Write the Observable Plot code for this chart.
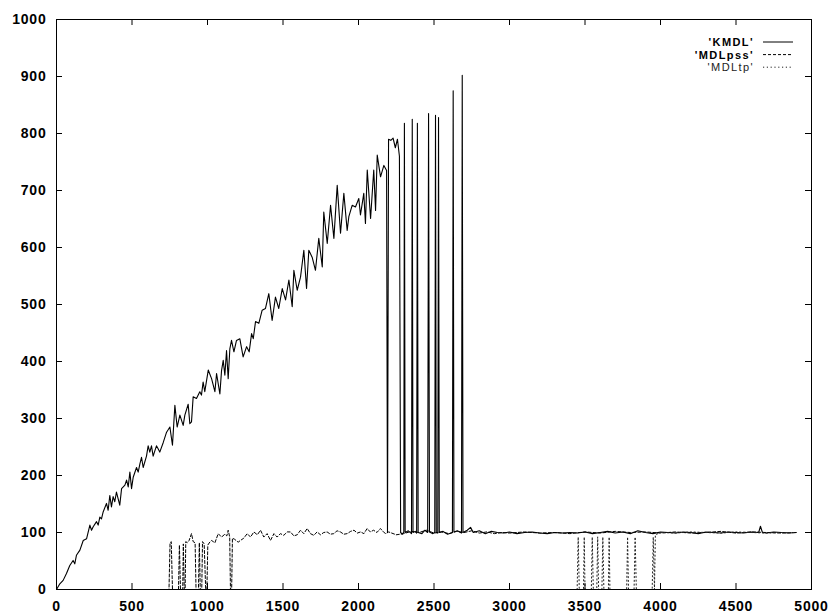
<!DOCTYPE html>
<html>
<head>
<meta charset="utf-8">
<script src="https://cdn.jsdelivr.net/npm/d3@7"></script>
<script src="https://cdn.jsdelivr.net/npm/@observablehq/plot@0.6"></script>
<style>
  html, body { margin: 0; padding: 0; background: #fff; }
  #chart { width: 830px; height: 614px; }
</style>
</head>
<body>
<div id="chart"></div>
<script>
// ---- data ----
const xTicks = [0, 500, 1000, 1500, 2000, 2500, 3000, 3500, 4000, 4500, 5000];
const yTicks = [0, 100, 200, 300, 400, 500, 600, 700, 800, 900, 1000];
const seriesNames = ["'KMDL'", "'MDLpss'", "'MDLtp'"];

const kmdl = [
[0,0],[22,10],[44,16],[66,28],[88,42],[110,51],[121,45],[132,60],[155,69],[177,86],[199,89],[221,113],[232,104],[243,110],[265,119],[276,113],[287,127],[298,124],[309,136],[331,151],[342,139],[353,165],[364,145],[375,163],[386,154],[397,171],[419,148],[431,177],[453,183],[464,192],[475,180],[486,206],[497,177],[508,197],[530,214],[541,206],[552,220],[563,232],[574,214],[596,234],[607,252],[618,241],[629,252],[640,234],[662,252],[673,247],[684,241],[707,258],[729,276],[751,285],[768,253],[784,323],[799,285],[817,306],[839,288],[850,306],[872,325],[883,291],[894,294],[905,338],[927,335],[949,347],[960,341],[971,364],[982,347],[1005,385],[1027,370],[1049,347],[1060,379],[1082,343],[1093,384],[1104,402],[1115,376],[1126,419],[1137,370],[1148,422],[1159,437],[1175,417],[1192,437],[1214,440],[1236,408],[1259,426],[1276,417],[1292,449],[1303,440],[1318,470],[1340,467],[1362,490],[1384,493],[1406,519],[1428,472],[1450,513],[1472,493],[1495,528],[1517,508],[1539,543],[1561,496],[1572,560],[1594,525],[1616,548],[1638,595],[1656,528],[1671,595],[1693,583],[1715,560],[1737,616],[1760,566],[1770,662],[1793,607],[1815,674],[1837,616],[1859,709],[1881,625],[1903,695],[1925,630],[1936,654],[1958,674],[1980,671],[2002,686],[2013,657],[2035,695],[2046,642],[2058,736],[2080,651],[2101,736],[2113,665],[2124,762],[2146,724],[2168,744],[2186,735],
[2192,100],[2199,790],[2214,788],[2229,792],[2244,775],[2258,790],[2271,760],[2279,100],[2290,97],[2300,101],[2304,818],[2309,100],[2330,103],[2351,98],[2356,825],[2361,100],[2375,102],[2385,99],[2390,818],[2395,100],[2420,98],[2440,104],[2458,100],[2464,835],[2470,101],[2490,98],[2505,100],[2510,832],[2515,100],[2525,99],[2530,828],[2535,100],[2560,102],[2590,97],[2622,100],[2627,875],[2632,101],[2655,103],[2682,99],[2687,902],[2692,100],
[2720,104],[2742,109],[2760,100],[2800,103],[2840,98],[2880,102],[2920,100],[2960,99],[3000,101],[3050,98],[3100,100],[3150,101],[3200,99],[3250,98],[3300,100],[3350,99],[3400,100],[3450,99],[3500,101],[3550,98],[3600,100],[3650,102],[3700,99],[3750,101],[3800,98],[3850,103],[3900,100],[3950,98],[4000,101],[4050,100],[4100,99],[4150,101],[4200,100],[4250,98],[4300,101],[4350,100],[4400,99],[4450,101],[4500,100],[4550,99],[4600,101],[4650,100],[4662,111],[4675,100],[4700,99],[4750,101],[4800,100],[4850,99],[4900,100]
];

const mdlpss = [
[0,0],[745,0],[752,82],[760,84],[768,0],[808,0],[814,78],[821,0],[836,0],[840,80],[846,0],[852,0],[856,84],[866,82],[878,86],[894,98],[905,84],[918,82],[924,0],[940,0],[946,82],[952,0],[962,0],[967,84],[978,80],[988,0],[996,0],[1002,78],[1015,83],[1027,86],[1049,82],[1071,98],[1093,92],[1115,97],[1128,94],[1137,104],[1147,92],[1152,0],[1160,0],[1165,90],[1180,88],[1203,83],[1218,86],[1240,90],[1263,98],[1285,92],[1307,101],[1330,96],[1351,104],[1373,92],[1395,98],[1417,86],[1440,98],[1461,92],[1483,98],[1505,95],[1528,101],[1550,101],[1572,94],[1594,96],[1616,104],[1638,98],[1660,107],[1682,98],[1704,95],[1726,101],[1748,96],[1770,100],[1792,101],[1814,97],[1836,98],[1858,103],[1880,101],[1903,97],[1925,98],[1948,102],[1970,104],[1992,99],[2014,101],[2036,98],[2057,107],[2078,101],[2100,104],[2122,100],[2145,107],[2165,101],[2180,98],[2200,101],
[2250,96],[2300,98],[2350,102],[2400,100],[2450,104],[2500,99],[2550,101],[2600,98],[2650,102],[2700,100],[2750,103],[2800,99],[2850,101],[2900,98],[2950,100],[3000,99],[3100,101],[3200,99],[3300,100],[3400,98],[3500,101],[3600,99],[3700,102],[3800,100],[3900,101],[4000,99],[4100,101],[4200,99],[4300,100],[4400,102],[4500,99],[4600,101],[4700,100],[4800,99],[4900,100]
];

const mdltp = [
[0,0],[3448,0],[3455,92],[3462,0],[3490,0],[3495,92],[3500,0],[3542,0],[3548,92],[3555,0],[3578,0],[3584,92],[3590,0],[3612,0],[3618,92],[3625,0],[3655,0],[3660,92],[3665,0],[3776,0],[3782,92],[3788,0],[3825,0],[3832,92],[3840,0],[3945,0],[3952,92],[3960,0],[3966,96],[4000,100],[4100,99],[4200,101],[4300,100],[4400,99],[4500,101],[4600,100],[4700,99],[4800,100],[4900,100]
];

// ---- styles ----
const lineStyles = [
  {stroke: "#000", dash: null, width: 1.1},
  {stroke: "#000", dash: "3,2", width: 1},
  {stroke: "#222", dash: "1.2,2.6", width: 1}
];
const legendWeights = ["bold", "bold", "normal"];

const W = 830, H = 614;
const mL = 56, mR = 19, mT = 19, mB = 25;
const plotW = W - mL - mR, plotH = H - mT - mB;
const tick = 6;

function legend(index, scales, values, dims) {
  const g = d3.create("svg:g");
  const right = dims.width - dims.marginRight;
  seriesNames.forEach((name, i) => {
    const y = 42 + i * 12.6;
    g.append("text")
      .attr("x", right - 57).attr("y", y).attr("dy", "0.36em")
      .attr("text-anchor", "end")
      .attr("font-family", "'Liberation Sans', Arial, sans-serif")
      .attr("font-size", 11)
      .attr("font-weight", legendWeights[i])
      .attr("letter-spacing", "1.4px")
      .attr("fill", i === 2 ? "#222" : "#000")
      .text(name);
    const ln = g.append("line")
      .attr("x1", right - 48).attr("x2", right - 18)
      .attr("y1", y).attr("y2", y)
      .attr("stroke", lineStyles[i].stroke)
      .attr("stroke-width", 1);
    if (lineStyles[i].dash) ln.attr("stroke-dasharray", lineStyles[i].dash);
  });
  return g.node();
}

const series = [kmdl, mdlpss, mdltp];

const chart = Plot.plot({
  width: W,
  height: H,
  marginLeft: mL, marginRight: mR, marginTop: mT, marginBottom: mB,
  style: {fontFamily: "'Liberation Sans', Arial, sans-serif", background: "#fff", color: "#000"},
  x: {domain: [0, 5000]},
  y: {domain: [0, 1000]},
  marks: [
    ...series.map((s, i) => Plot.line(s, {
      x: d => d[0], y: d => d[1],
      stroke: lineStyles[i].stroke,
      strokeWidth: lineStyles[i].width,
      strokeDasharray: lineStyles[i].dash || undefined
    })),
    Plot.frame({stroke: "#000", strokeWidth: 1}),
    Plot.tickX(xTicks, {x: d => d, insetTop: plotH - tick, stroke: "#000"}),
    Plot.tickX(xTicks, {x: d => d, insetBottom: plotH - tick, stroke: "#000"}),
    Plot.tickY(yTicks, {y: d => d, insetRight: plotW - tick, stroke: "#000"}),
    Plot.tickY(yTicks, {y: d => d, insetLeft: plotW - tick, stroke: "#000"}),
    Plot.axisX({ticks: xTicks, tickSize: 0, tickPadding: 12, tickFormat: d => String(d),
      fontSize: 14, fontWeight: "bold", label: null}),
    Plot.axisY({ticks: yTicks, tickSize: 0, tickPadding: 10, tickFormat: d => String(d),
      fontSize: 14, fontWeight: "bold", label: null}),
    legend
  ]
});
chart.setAttribute("letter-spacing", "0.8px");
document.getElementById("chart").appendChild(chart);
</script>
</body>
</html>
